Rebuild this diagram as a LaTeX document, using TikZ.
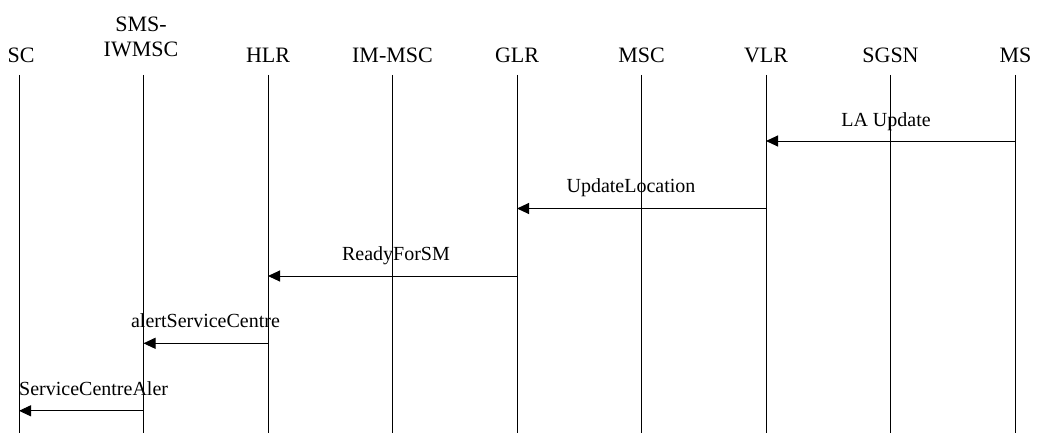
\documentclass[tikz,border=0pt]{standalone}
\usepackage{fontspec}
\setmainfont{Liberation Serif}
\usetikzlibrary{arrows.meta}
\begin{document}
\begin{tikzpicture}[x=1pt,y=-1pt,
  lbl/.style={font=\fontsize{20}{25}\selectfont, inner sep=0pt, anchor=base},
  head/.style={font=\fontsize{22}{25}\selectfont, inner sep=0pt, anchor=base, align=center},
  life/.style={line width=1pt, black},
  msg/.style={line width=1pt, black, -{Triangle[length=12pt,width=11pt]}}]
\useasboundingbox (0,0) rectangle (1038,433);
% headers
\node[head] (hSC)   at (21,63)    {SC};
\node[head] (hSMS1) at (141,32)   {SMS-};
\node[head] (hSMS2) at (141,57)   {IWMSC};
\node[head] (hHLR)  at (268,63)   {HLR};
\node[head] (hIM)   at (392.5,63) {IM-MSC};
\node[head] (hGLR)  at (517,63)   {GLR};
\node[head] (hMSC)  at (641.5,63) {MSC};
\node[head] (hVLR)  at (766,63)   {VLR};
\node[head] (hSGSN) at (890.5,63) {SGSN};
\node[head] (hMS)   at (1015.5,63){MS};
% lifelines
\foreach \n/\x in {SC/19,SMS/143.5,HLR/268,IM/392.5,GLR/517,MSC/641.5,VLR/766,SGSN/890.5,MS/1015.5}{
  \coordinate (t\n) at (\x,75);
  \coordinate (b\n) at (\x,433);
  \draw[life] (t\n) -- (b\n);
}
% message end points
\coordinate (m1a) at (1015.5,141); \coordinate (m1b) at (766,141);
\coordinate (m2a) at (766,208.5);  \coordinate (m2b) at (517,208.5);
\coordinate (m3a) at (517,276);    \coordinate (m3b) at (268,276);
\coordinate (m4a) at (268,343.3);  \coordinate (m4b) at (143.5,343.3);
\coordinate (m5a) at (143.5,410.8);\coordinate (m5b) at (19,410.8);
\draw[msg] (m1a) -- (m1b);
\draw[msg] (m2a) -- (m2b);
\draw[msg] (m3a) -- (m3b);
\draw[msg] (m4a) -- (m4b);
\draw[msg] (m5a) -- (m5b);
% labels
\node[lbl] (l1) at (886,127) {LA Update};
\node[lbl] (l2) at (631,192.5) {UpdateLocation};
\node[lbl] (l3) at (396,260) {ReadyForSM};
\node[lbl] (l4) at (205.5,327.5) {alertServiceCentre};
\node[lbl,anchor=base west] (l5) at (19,395.5) {ServiceCentreAler};
\end{tikzpicture}
\end{document}
